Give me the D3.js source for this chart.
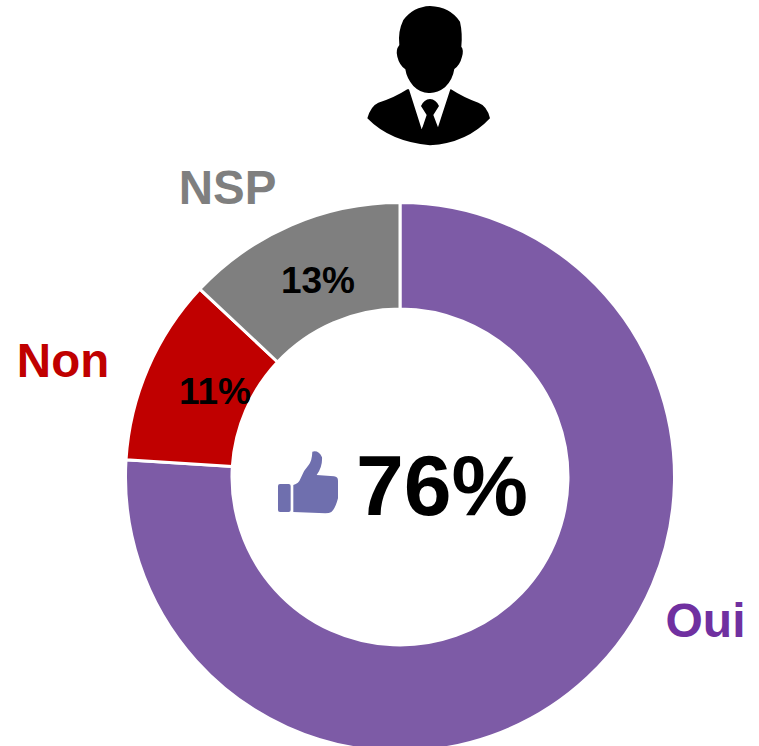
<!DOCTYPE html>
<html><head><meta charset="utf-8">
<script src="https://cdn.jsdelivr.net/npm/d3@7"></script>
<style>html,body{margin:0;padding:0;background:#fff;overflow:hidden}svg{display:block}text{font-family:"Liberation Sans",Arial,sans-serif;font-weight:700}</style>
</head><body><svg id="c" width="759" height="746"></svg>
<script>
const categories = ["Oui", "Non", "NSP"];
const values = [76, 11, 13];
const sliceColors = ["#7d5ba6", "#c00000", "#7f7f7f"];
const nameColors = ["#7030a0", "#c00000", "#7f7f7f"];
const headline = "76%";

const svg = d3.select("#c");
const cx = 400, cy = 477, R = 274.5, r = 168;
const pie = d3.pie().sort(null).value(d => d);
const arc = d3.arc().innerRadius(r).outerRadius(R);
const arcs = pie(values);
const g = svg.append("g").attr("transform", `translate(${cx},${cy})`);
g.selectAll("path").data(arcs).join("path")
  .attr("d", arc).attr("fill", (d,i) => sliceColors[i])
  .attr("stroke", "#fff").attr("stroke-width", 3);

// layout of labels, relative to the centre of the ring
const nameAt = [[305.5, 143], [-337, -117], [-172.5, -290]];
const pctAt = [null, [-185, -86], [-82, -197]];
g.selectAll("text.name").data(categories).join("text").attr("class","name")
  .attr("x",(d,i)=>nameAt[i][0]).attr("y",(d,i)=>nameAt[i][1]+16.5)
  .attr("text-anchor","middle").attr("font-size",(d,i)=>i===0?48:47.5)
  .attr("fill",(d,i)=>nameColors[i]).text(d=>d);
g.selectAll("text.pct").data(values.map((v,i)=>({v,i})).filter(d=>pctAt[d.i])).join("text").attr("class","pct")
  .attr("x",d=>pctAt[d.i][0]).attr("y",d=>pctAt[d.i][1]+13)
  .attr("text-anchor","middle").attr("font-size",37).attr("fill","#000").text(d=>d.v+"%");
g.append("text").attr("x",42).attr("y",38).attr("text-anchor","middle")
  .attr("font-size",86).attr("fill","#000").text(headline);

// thumb pictogram
const thumb = svg.append("g").attr("transform","translate(260,430) scale(0.3333)").attr("fill","#6f6fae");
thumb.append("rect").attr("x",54).attr("y",162).attr("width",38).attr("height",84).attr("rx",6);
thumb.append("path").attr("d","M100,165 Q116,162 122,145 Q130,122 146,105 Q156,92 157,65 Q176,60 186,82 Q188,110 170,135 L222,139 Q234,140 234,152 L234,205 Q226,236 214,246 Q208,250 196,250 L100,246 Z");

// person pictogram
const man = svg.append("g").attr("transform","translate(350,0) scale(0.3333)");
man.append("path").attr("fill","#000").attr("d","M172,268 Q130,295 85,308 Q62,318 52,355 Q120,425 240,436 Q350,430 420,355 Q412,318 385,308 Q345,295 303,268 Z");
man.append("path").attr("fill","#fff").attr("d","M175,262 L215,388 L240,345 L262,388 L303,262 Z");
man.append("path").attr("fill","#000").attr("d","M213,318 Q222,298 240,297 Q258,298 267,318 L250,345 L268,392 L240,425 L214,392 L230,345 Z");
man.append("path").attr("fill","#000").attr("d","M240,18 Q300,20 330,65 Q338,100 334,140 Q342,150 336,170 Q330,195 313,207 Q308,240 285,262 Q262,280 238,279 Q212,280 190,258 Q170,235 166,208 Q148,195 142,170 Q136,150 148,135 Q143,95 160,60 Q190,20 240,18 Z");
</script></body></html>
